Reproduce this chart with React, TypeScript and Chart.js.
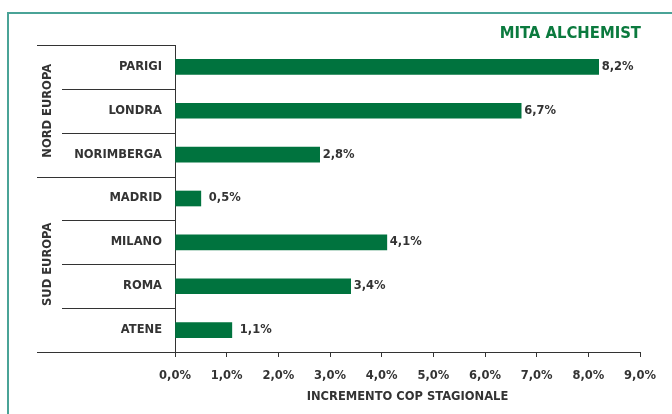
import { useEffect, useRef } from "react";
import { Chart, registerables } from "chart.js";
Chart.register(...registerables);

const cities = ["PARIGI", "LONDRA", "NORIMBERGA", "MADRID", "MILANO", "ROMA", "ATENE"];
const increments = [8.2, 6.7, 2.8, 0.5, 4.1, 3.4, 1.1];
const groupLabels = ["NORD EUROPA", "SUD EUROPA"];
const groupStarts = [0, 3];
const groupEnds = [2, 6];
const chartTitle = "MITA ALCHEMIST";
const axisTitle = "INCREMENTO COP STAGIONALE";
const xMin = 0;
const xMax = 9;
const xStep = 1;

const FONT = "'DejaVu Sans', sans-serif";
const TEXT = "#333333";
const GREEN = "#00733e";

const fmt = (v: number) => v.toFixed(1).replace(".", ",") + "%";

const decor = {
  id: "decor",
  afterDraw(chart: any) {
    const { ctx, chartArea: a, scales } = chart;
    const y = scales.y;
    ctx.save();
    // title
    ctx.fillStyle = "#0b7a3e";
    ctx.font = `bold 16.5px 'DejaVu Sans Condensed', ${FONT}`;
    ctx.textAlign = "right";
    ctx.textBaseline = "middle";
    ctx.fillText(chartTitle, 641, 34);

    // separator lines
    ctx.strokeStyle = TEXT;
    ctx.lineWidth = 1;
    const line = (x0: number, x1: number, yy: number) => {
      const py = Math.round(yy) + 0.5;
      ctx.beginPath();
      ctx.moveTo(x0, py);
      ctx.lineTo(x1, py);
      ctx.stroke();
    };
    line(37, a.left, a.top);
    for (let i = 0; i < cities.length - 1; i++) {
      const yy = (y.getPixelForValue(i) + y.getPixelForValue(i + 1)) / 2;
      const isGroupEnd = groupEnds.includes(i);
      line(isGroupEnd ? 37 : 62, a.left, yy);
    }
    line(37, a.left + 1, a.bottom);

    // group labels
    ctx.fillStyle = TEXT;
    ctx.font = `bold 11.5px ${FONT}`;
    ctx.textAlign = "center";
    ctx.textBaseline = "middle";
    const step = y.getPixelForValue(1) - y.getPixelForValue(0);
    groupLabels.forEach((g, k) => {
      const y0 = y.getPixelForValue(groupStarts[k]) - step / 2;
      const y1 = y.getPixelForValue(groupEnds[k]) + step / 2;
      ctx.save();
      ctx.translate(48, (y0 + y1) / 2);
      ctx.rotate(-Math.PI / 2);
      ctx.fillText(g, 0, 0);
      ctx.restore();
    });

    // value labels
    ctx.textAlign = "left";
    const meta = chart.getDatasetMeta(0);
    meta.data.forEach((bar: any, i: number) => {
      const v = increments[i];
      const off = v < 2 ? 8 : 3;
      ctx.fillText(fmt(v), bar.x + off, bar.y);
    });
    ctx.restore();
  },
};

export default function App() {
  const ref = useRef<HTMLCanvasElement>(null);
  useEffect(() => {
    if (!ref.current) return;
    const chart = new Chart(ref.current, {
      type: "bar",
      data: {
        labels: cities,
        datasets: [
          {
            data: increments,
            backgroundColor: GREEN,
            barThickness: 15,
            borderWidth: 0,
          },
        ],
      },
      options: {
        indexAxis: "y",
        responsive: false,
        animation: false,
        events: [],
        layout: { padding: { top: 45, right: 32, bottom: 0, left: 0 } },
        plugins: { legend: { display: false }, tooltip: { enabled: false }, title: { display: false } },
        scales: {
          x: {
            min: xMin,
            max: xMax,
            ticks: {
              stepSize: xStep,
              autoSkip: false,
              maxRotation: 0,
              color: TEXT,
              font: { family: FONT, weight: "bold", size: 11.5 },
              padding: 12,
              callback: (v: any) => fmt(Number(v)),
            },
            grid: { drawOnChartArea: false, drawTicks: true, tickLength: 5, color: TEXT },
            border: { display: true, color: TEXT, width: 1 },
            title: {
              display: true,
              text: axisTitle,
              color: TEXT,
              font: { family: FONT, weight: "bold", size: 11.5 },
              padding: { top: 0, bottom: 10 },
            },
            afterFit: (s: any) => {
              s.height = 62;
            },
          },
          y: {
            ticks: {
              color: TEXT,
              font: { family: FONT, weight: "bold", size: 11.5 },
              padding: 13,
              autoSkip: false,
            },
            grid: { display: false, drawTicks: false },
            border: { display: true, color: TEXT, width: 1 },
            afterFit: (s: any) => {
              s.width = 175;
            },
          },
        },
      },
      plugins: [decor],
    });
    return () => chart.destroy();
  }, []);
  return (
    <div style={{ position: "fixed", left: 0, top: 0, width: 672, height: 414, overflow: "hidden", background: "#fff" }}>
      <div
        style={{
          position: "absolute",
          left: 7,
          top: 12,
          width: 720,
          height: 500,
          border: "2px solid #4aa397",
          boxSizing: "border-box",
        }}
      />
      <canvas ref={ref} width={672} height={414} style={{ position: "absolute", left: 0, top: 0 }} />
    </div>
  );
}
